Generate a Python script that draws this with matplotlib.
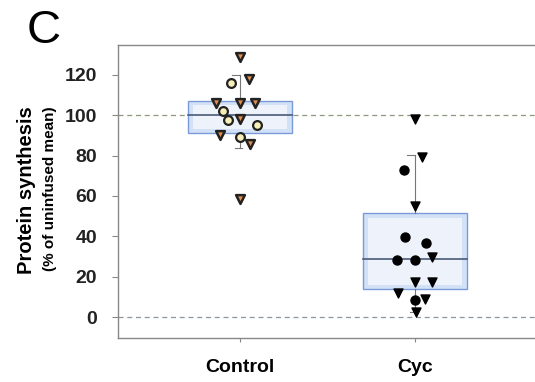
import numpy as np
import matplotlib.pyplot as plt
from matplotlib.patches import Rectangle

plt.rcParams['font.family'] = ['Liberation Sans', 'DejaVu Sans']

groups = ["Control", "Cyc"]

# kontrollrühma punktid
ctrl_tri = [128.6, 118, 106, 106, 106, 98, 90.4, 85.5, 58.3]
ctrl_tri_dx = [0.0, 0.05, -0.135, 0.0, 0.085, 0.0, -0.115, 0.06, 0.0]
ctrl_circ = [116, 102, 97.5, 95, 89.3]
ctrl_circ_dx = [-0.05, -0.095, -0.07, 0.1, 0.0]

# Cyc punktid
cyc_tri = [98.3, 79.4, 55, 29.9, 17.5, 17.5, 12, 9.2, 2.6]
cyc_tri_dx = [0.0, 0.04, 0.0, 0.1, 0.0, 0.1, -0.095, 0.06, 0.005]
cyc_circ = [72.8, 39.8, 36.8, 28.5, 28.5, 8.4]
cyc_circ_dx = [-0.06, -0.055, 0.065, -0.1, 0.0, 0.0]

# kastid: alumine kvartiil, mediaan, ülemine kvartiil, vurrud
box_q1 = [91, 13.7]
box_med = [100, 29]
box_q3 = [107, 51.3]
whisk_lo = [83.5, 2.6]
whisk_hi = [120, 80.2]

fig = plt.figure(figsize=(5.35, 3.82), dpi=100)
ax = fig.add_axes([0.2206, 0.116, 0.7794, 0.766])

pos = [1, 2]
w = 0.594
for i, x in enumerate(pos):
    # vurrud
    ax.plot([x, x], [box_q3[i], whisk_hi[i]], color='#777777', lw=0.8, zorder=2)
    ax.plot([x, x], [whisk_lo[i], box_q1[i]], color='#777777', lw=0.8, zorder=2)
    ax.plot([x - 0.045, x], [whisk_hi[i], whisk_hi[i]], color='#777777', lw=0.8, zorder=2)
    ax.plot([x - 0.03, x + 0.01], [whisk_lo[i], whisk_lo[i]], color='#777777', lw=0.8, zorder=2)
    ax.add_patch(Rectangle((x - w / 2, box_q1[i]), w, box_q3[i] - box_q1[i],
                           facecolor='#d3e1f7', edgecolor='#7b9bd8', lw=1.0, zorder=1))
    ax.add_patch(Rectangle((x - w / 2 + 0.03, box_q1[i] + 2), w - 0.06, box_q3[i] - box_q1[i] - 4,
                           facecolor='#eef3fb', edgecolor='none', zorder=1))
    ax.plot([x - w / 2, x + w / 2], [box_med[i], box_med[i]], color='#4a5a78', lw=1.2, zorder=2)

# katkendjooned 0 ja 100 juures
ax.axhline(100, color='#8f9a7c', lw=0.9, ls=(0, (4, 3)), zorder=0)
ax.axhline(0, color='#8a97a0', lw=0.9, ls=(0, (4, 3)), zorder=0)

ax.scatter(1 + np.array(ctrl_tri_dx), ctrl_tri, marker='v', s=40, facecolor='#e09050',
           edgecolor='#222222', linewidths=1.8, zorder=4)
ax.scatter(1 + np.array(ctrl_circ_dx), ctrl_circ, marker='o', s=40, facecolor='#f6f0b8',
           edgecolor='#222222', linewidths=1.6, zorder=4)
ax.scatter(2 + np.array(cyc_tri_dx), cyc_tri, marker='v', s=42, facecolor='black',
           edgecolor='black', zorder=4)
ax.scatter(2 + np.array(cyc_circ_dx), cyc_circ, marker='o', s=42, facecolor='black',
           edgecolor='black', zorder=4)

ax.set_xlim(0.303, 2.686)
ax.set_ylim(-10.2, 134.7)
ax.set_yticks([0, 20, 40, 60, 80, 100, 120])
ax.set_xticks(pos)
ax.set_xticklabels(groups, fontsize=14, fontweight='bold')
ax.tick_params(axis='y', labelsize=14, length=4, color='#888888', pad=11)
ax.tick_params(axis='x', length=3, color='#888888', pad=12)
for lab in ax.get_yticklabels():
    lab.set_fontweight('bold')
    lab.set_color('#222222')

ax.spines['right'].set_visible(False)
for s in ['left', 'top', 'bottom']:
    ax.spines[s].set_color('#888888')
    ax.spines[s].set_linewidth(1.0)

fig.text(27 / 535, 1 - 190 / 382, 'Protein synthesis', rotation=90, ha='center', va='center',
         fontsize=14.5, fontweight='bold')
fig.text(50 / 535, 1 - 189 / 382, '(% of uninfused mean)', rotation=90, ha='center', va='center',
         fontsize=11, fontweight='bold')
fig.text(44 / 535, 1 - 31 / 382, 'C', ha='center', va='center', fontsize=34)

fig.savefig('out.png', dpi=100)
